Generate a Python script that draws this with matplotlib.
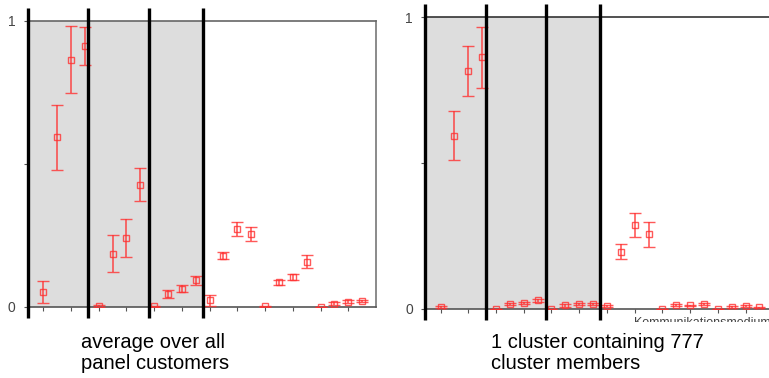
import numpy as np
import matplotlib.pyplot as plt
from matplotlib.patches import Rectangle
from matplotlib.transforms import Bbox, TransformedBbox

plt.rcParams['font.family'] = ['Liberation Sans', 'DejaVu Sans']

# 24 items, grouped in blocks of 4 (shaded) and the rest
pos = np.arange(1, 25)

avg_mean = [0.053, 0.593, 0.864, 0.913, 0.003, 0.186, 0.242, 0.427,
            0.002, 0.046, 0.064, 0.093, 0.023, 0.179, 0.273, 0.256,
            0.002, 0.086, 0.105, 0.158, 0.000, 0.012, 0.019, 0.021]
avg_err = [0.038, 0.113, 0.116, 0.066, 0.004, 0.064, 0.067, 0.058,
           0.003, 0.013, 0.012, 0.017, 0.020, 0.013, 0.024, 0.024,
           0.003, 0.010, 0.010, 0.022, 0.000, 0.004, 0.004, 0.005]

clu_mean = [0.006, 0.594, 0.815, 0.863, 0.000, 0.016, 0.020, 0.029,
            0.000, 0.011, 0.015, 0.015, 0.008, 0.195, 0.287, 0.255,
            0.000, 0.012, 0.011, 0.015, 0.000, 0.007, 0.008, 0.005]
clu_err = [0.003, 0.084, 0.085, 0.105, 0.000, 0.004, 0.004, 0.005,
           0.000, 0.004, 0.004, 0.004, 0.003, 0.026, 0.041, 0.042,
           0.000, 0.004, 0.003, 0.004, 0.000, 0.003, 0.003, 0.002]

separators = [-0.1, 4.25, 8.6, 12.5]
xticks = np.arange(1, 24, 2)

W, H = 769, 378
fig = plt.figure(figsize=(W / 100, H / 100), dpi=100)
ax1 = fig.add_axes([28 / W, 71 / H, 348 / W, 286.3 / H])
ax2 = fig.add_axes([425.3 / W, 69.3 / H, 348 / W, 291.4 / H])


def draw_panel(ax, means, errs, frame_right):
    ax.set_xlim(-0.1, 25)
    ax.set_ylim(0, 1)
    ax.add_patch(Rectangle((-0.1, 0), 12.6, 1, facecolor='#dddddd',
                           edgecolor='none', zorder=0))
    ax.errorbar(pos, means, yerr=errs, fmt='s', mfc='none', mec='#ff3030',
                ms=4, mew=1.0, ecolor='#ff3030', elinewidth=1.2,
                capsize=4.5, capthick=1.2, alpha=0.8, zorder=3)
    for s in separators:
        ax.plot([s, s], [-0.04, 1.045], color='black', lw=2.4,
                clip_on=False, zorder=5, solid_capstyle='butt')
    ax.set_yticks([0, 0.5, 1])
    ax.set_yticklabels(['0', '', '1'])
    ax.set_xticks(xticks)
    ax.set_xticklabels([])
    ax.tick_params(axis='both', direction='out', length=3, width=0.8,
                   colors='#555555', labelsize=10, labelcolor='#444444', pad=6)
    ax.spines['left'].set_visible(False)
    ax.spines['top'].set_color('#666666')
    ax.spines['bottom'].set_color('#555555')
    ax.spines['top'].set_linewidth(1.2)
    ax.spines['bottom'].set_linewidth(1.2)
    if frame_right:
        ax.spines['right'].set_color('#777777')
        ax.spines['right'].set_linewidth(1.2)
    else:
        ax.spines['right'].set_visible(False)


draw_panel(ax1, avg_mean, avg_err, True)
draw_panel(ax2, clu_mean, clu_err, False)
ax2.spines['top'].set_color('#333333')

# axis title of the right panel, only its top edge peeks out
t = fig.text(634 / W, 1 - 317 / H, 'Kommunikationsmedium', fontsize=9,
             color='#444444', va='top', ha='left')
clip = Bbox([[600 / W, 1 - 322 / H], [1.0, 1 - 312 / H]])
t.set_clip_box(TransformedBbox(clip, fig.transFigure))
t.set_clip_on(True)

fig.text(81 / W, 1 - 333 / H, 'average over all\npanel customers',
         fontsize=14.5, ha='left', va='top', linespacing=1.12)
fig.text(491 / W, 1 - 333 / H, '1 cluster containing 777\ncluster members',
         fontsize=14.5, ha='left', va='top', linespacing=1.12)

fig.savefig('out.png', dpi=100)
